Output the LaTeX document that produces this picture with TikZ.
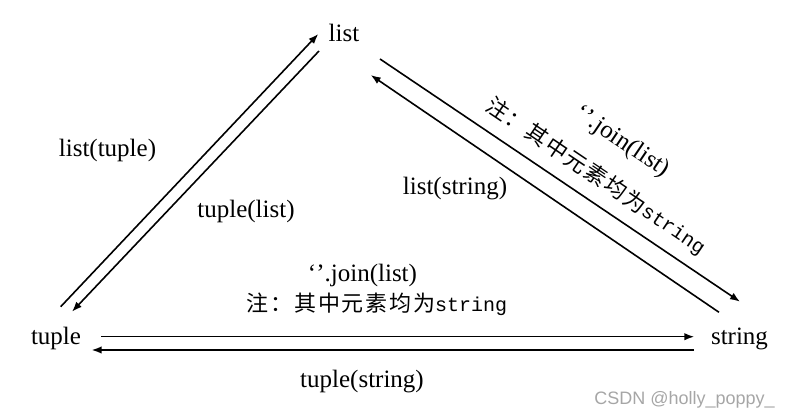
\documentclass[tikz,border=0pt]{standalone}
\usepackage{fontspec}
\setmainfont{Liberation Serif}
\newfontfamily\cjkf[LetterSpace=8]{Noto Sans CJK SC}
\newfontfamily\monof{Liberation Mono}
\newfontfamily\wmf{Liberation Sans}
\usetikzlibrary{arrows.meta}
\newcommand\zhnote{{\cjkf\fontsize{22}{26}\selectfont 注：其中元素均为}{\monof\fontsize{20}{24}\selectfont string}}
\tikzset{
  lab/.style={inner sep=0pt, font=\fontsize{25}{30}\selectfont},
  conv/.style={line width=1.6pt, -{Latex[length=10pt,width=7.5pt]}},
}
\begin{document}
\begin{tikzpicture}[x=1pt,y=1pt]
\useasboundingbox (0,0) rectangle (790,417);
% main nodes
\node[lab, anchor=base] (list) at (344,375) {list};
\node[lab, anchor=base] (tuple) at (56,72) {tuple};
\node[lab, anchor=base] (string) at (739.5,72) {string};
% connector end points
\coordinate (a1s) at (60.7,110.3);  \coordinate (a1e) at (318.3,383);
\coordinate (a2s) at (319,366);     \coordinate (a2e) at (72,105.3);
\coordinate (a3s) at (380,358);     \coordinate (a3e) at (740,115.3);
\coordinate (a4s) at (719,104.7);   \coordinate (a4e) at (370.7,342);
\coordinate (a5s) at (101,80.3);    \coordinate (a5e) at (694.3,80.3);
\coordinate (a6s) at (694,67);      \coordinate (a6e) at (91.7,67);
\draw[conv] (a1s) -- (a1e);
\draw[conv] (a2s) -- (a2e);
\draw[conv] (a3s) -- (a3e);
\draw[conv] (a4s) -- (a4e);
\draw[conv] (a5s) -- (a5e);
\draw[conv] (a6s) -- (a6e);
% labels
\node[lab, anchor=base] (ltup) at (107.5,260) {list(tuple)};
\node[lab, anchor=base] (tlist) at (246,199) {tuple(list)};
\node[lab, anchor=base] (lstr) at (455,222) {list(string)};
\node[lab, anchor=base] (join1) at (362.5,135) {‘’.join(list)};
\node[inner sep=0pt] (note1) at (377,113) {\zhnote};
\node[lab, anchor=base] (tstr) at (362,29) {tuple(string)};
\node[lab, rotate=-34] (join2) at (622,275) {‘’.join(list)};
\node[inner sep=0pt, rotate=-34] (note2) at (596,241) {\zhnote};
% watermark
\node[inner sep=0pt, anchor=base east, text=black!35, font=\wmf\fontsize{18}{20}\selectfont] (wm) at (775,12) {CSDN @holly\_poppy\_};
\end{tikzpicture}
\end{document}
